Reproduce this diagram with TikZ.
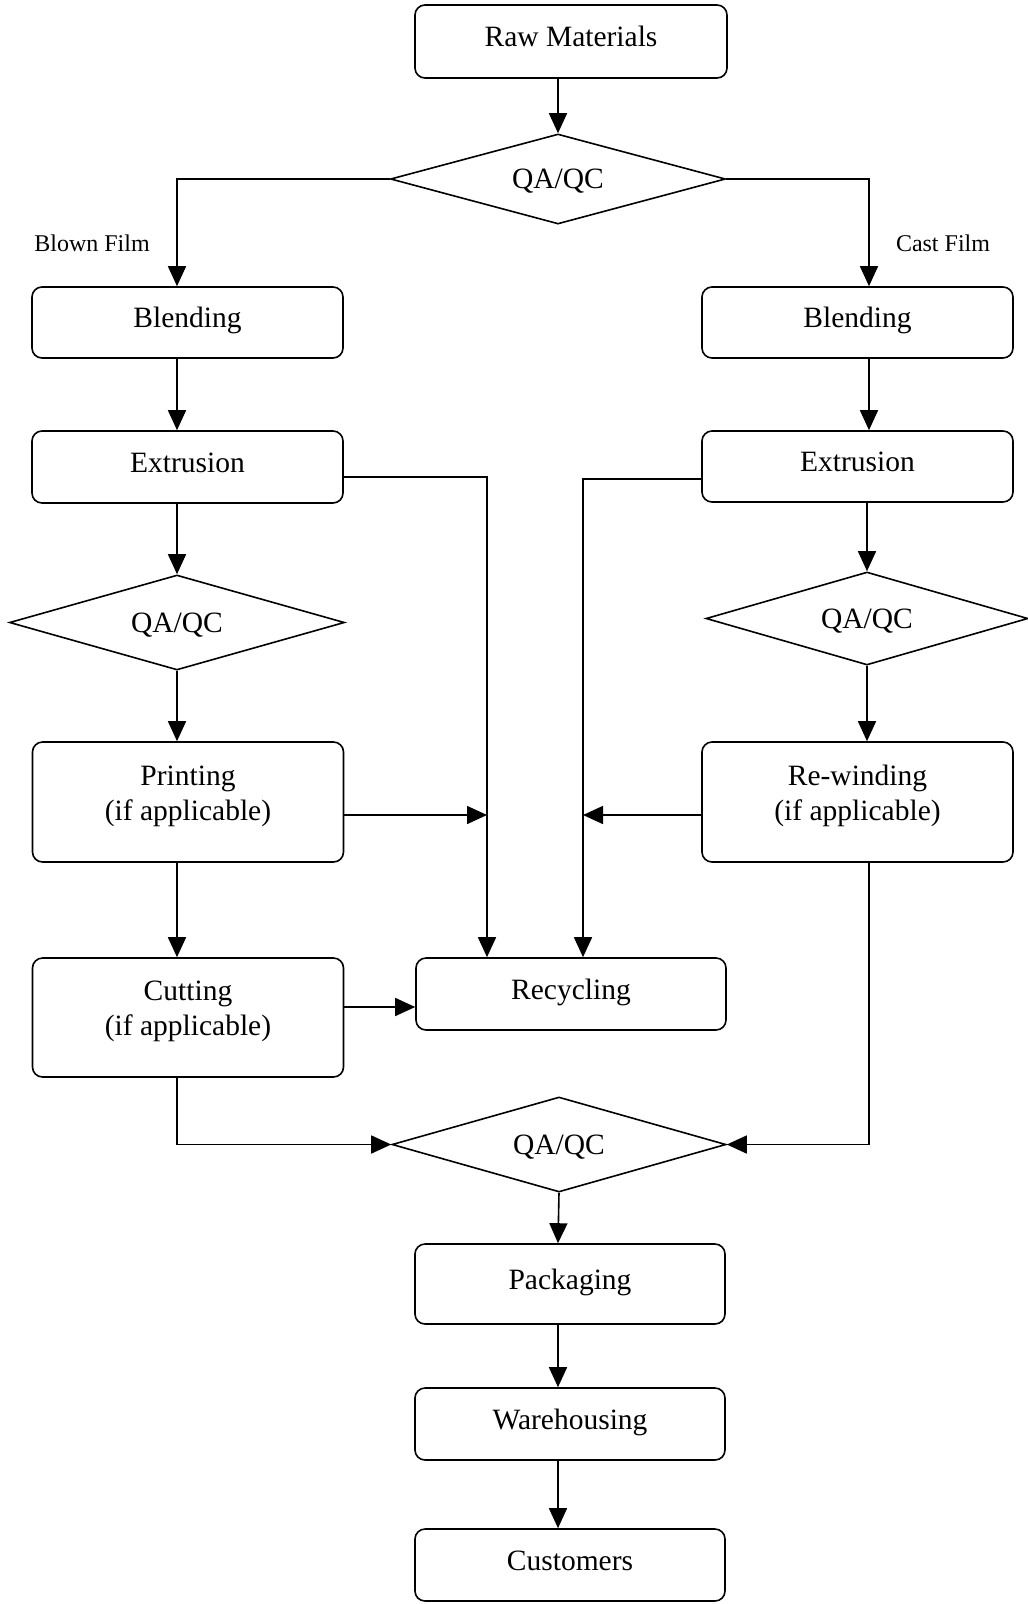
\documentclass[tikz,border=0pt]{standalone}
\usepackage{fontspec}
\setmainfont{Liberation Serif}
\usetikzlibrary{shapes.geometric,arrows.meta}
\begin{document}
\begin{tikzpicture}[x=1pt,y=-1pt,
  every node/.style={font=\fontsize{29.5}{35}\selectfont},
  boxbase/.style={draw,line width=1.6pt,rounded corners=10pt,minimum width=311pt,minimum height=72pt,align=center,inner sep=0pt},
  box/.style={boxbase,text height=21pt,text depth=11pt},
  boxtwo/.style={boxbase,text depth=18pt},
  dia/.style={draw,line width=1.6pt,diamond,aspect=4,minimum width=334pt,minimum height=94pt,inner sep=0pt,text depth=0pt},
  lbl/.style={font=\fontsize{24}{28}\selectfont,inner sep=0pt},
  arr/.style={line width=1.6pt,-{Triangle[length=20pt,width=18pt]}}]
\useasboundingbox (0,0) rectangle (1028,1604);
% columns and levels
\coordinate (lx) at (177,0);
\coordinate (rx) at (869,0);
\coordinate (cx) at (558,0);
\coordinate (lr) at (487,0);
\coordinate (rr) at (583,0);
\coordinate (yle) at (0,477);
\coordinate (yre) at (0,479);
\coordinate (ypr) at (0,815);
\coordinate (ycu) at (0,1007);
% nodes
\node[box,minimum width=312pt,minimum height=73pt] (raw) at (571,41.5) {Raw Materials};
\node[dia,minimum width=335pt,minimum height=90pt] (qa1) at (558,179) {QA/QC};
\node[lbl] (blown) at (92,243) {Blown Film};
\node[lbl] (cast) at (943,243) {Cast Film};
\node[box,minimum height=71pt] (lblend) at (187.5,322.5) {Blending};
\node[box] (lext) at (187.5,467) {Extrusion};
\node[dia,minimum width=335pt,minimum height=95pt] (lqa) at (177,622.5) {QA/QC};
\node[boxtwo,minimum height=120pt] (print) at (188,802) {Printing\\(if applicable)};
\node[boxtwo,minimum height=119pt] (cut) at (188,1017.5) {Cutting\\(if applicable)};
\node[box,minimum height=71pt] (rblend) at (857.5,322.5) {Blending};
\node[box,minimum height=71pt] (rext) at (857.5,466.5) {Extrusion};
\node[dia,minimum width=322pt,minimum height=93pt] (rqa) at (867,618.5) {QA/QC};
\node[boxtwo,minimum height=120pt] (rewind) at (857.5,802) {Re-winding\\(if applicable)};
\node[box,minimum width=310pt] (recyc) at (571,994) {Recycling};
\node[dia,minimum width=334pt,minimum height=95pt] (qa2) at (559,1144.5) {QA/QC};
\node[box,minimum width=310pt,minimum height=80pt] (pack) at (570,1284) {Packaging};
\node[box,minimum width=310pt] (ware) at (570,1424) {Warehousing};
\node[box,minimum width=310pt] (cust) at (570,1565) {Customers};
% connectors
\draw[arr] (cx |- raw.south) -- (qa1.north);
\draw[arr] (qa1.west) -| (lx |- lblend.north);
\draw[arr] (qa1.east) -| (rx |- rblend.north);
\draw[arr] (lx |- lblend.south) -- (lx |- lext.north);
\draw[arr] (lx |- lext.south) -- (lqa.north);
\draw[arr] (lqa.south) -- (lx |- print.north);
\draw[arr] (lx |- print.south) -- (lx |- cut.north);
\draw[arr] (lext.east |- yle) -| (lr |- recyc.north);
\draw[arr] (print.east |- ypr) -- (lr |- ypr);
\draw[arr] (cut.east |- ycu) -- (recyc.west |- ycu);
\draw[arr] (lx |- cut.south) |- (qa2.west);
\draw[arr] (rx |- rblend.south) -- (rx |- rext.north);
\draw[arr] (rqa.north |- rext.south) -- (rqa.north);
\draw[arr] (rqa.south) -- (rqa.south |- rewind.north);
\draw[arr] (rewind.west |- ypr) -- (rr |- ypr);
\draw[arr] (rext.west |- yre) -| (rr |- recyc.north);
\draw[arr] (rx |- rewind.south) |- (qa2.east);
\draw[arr] (qa2.south) -- (cx |- pack.north);
\draw[arr] (cx |- pack.south) -- (cx |- ware.north);
\draw[arr] (cx |- ware.south) -- (cx |- cust.north);
\end{tikzpicture}
\end{document}
